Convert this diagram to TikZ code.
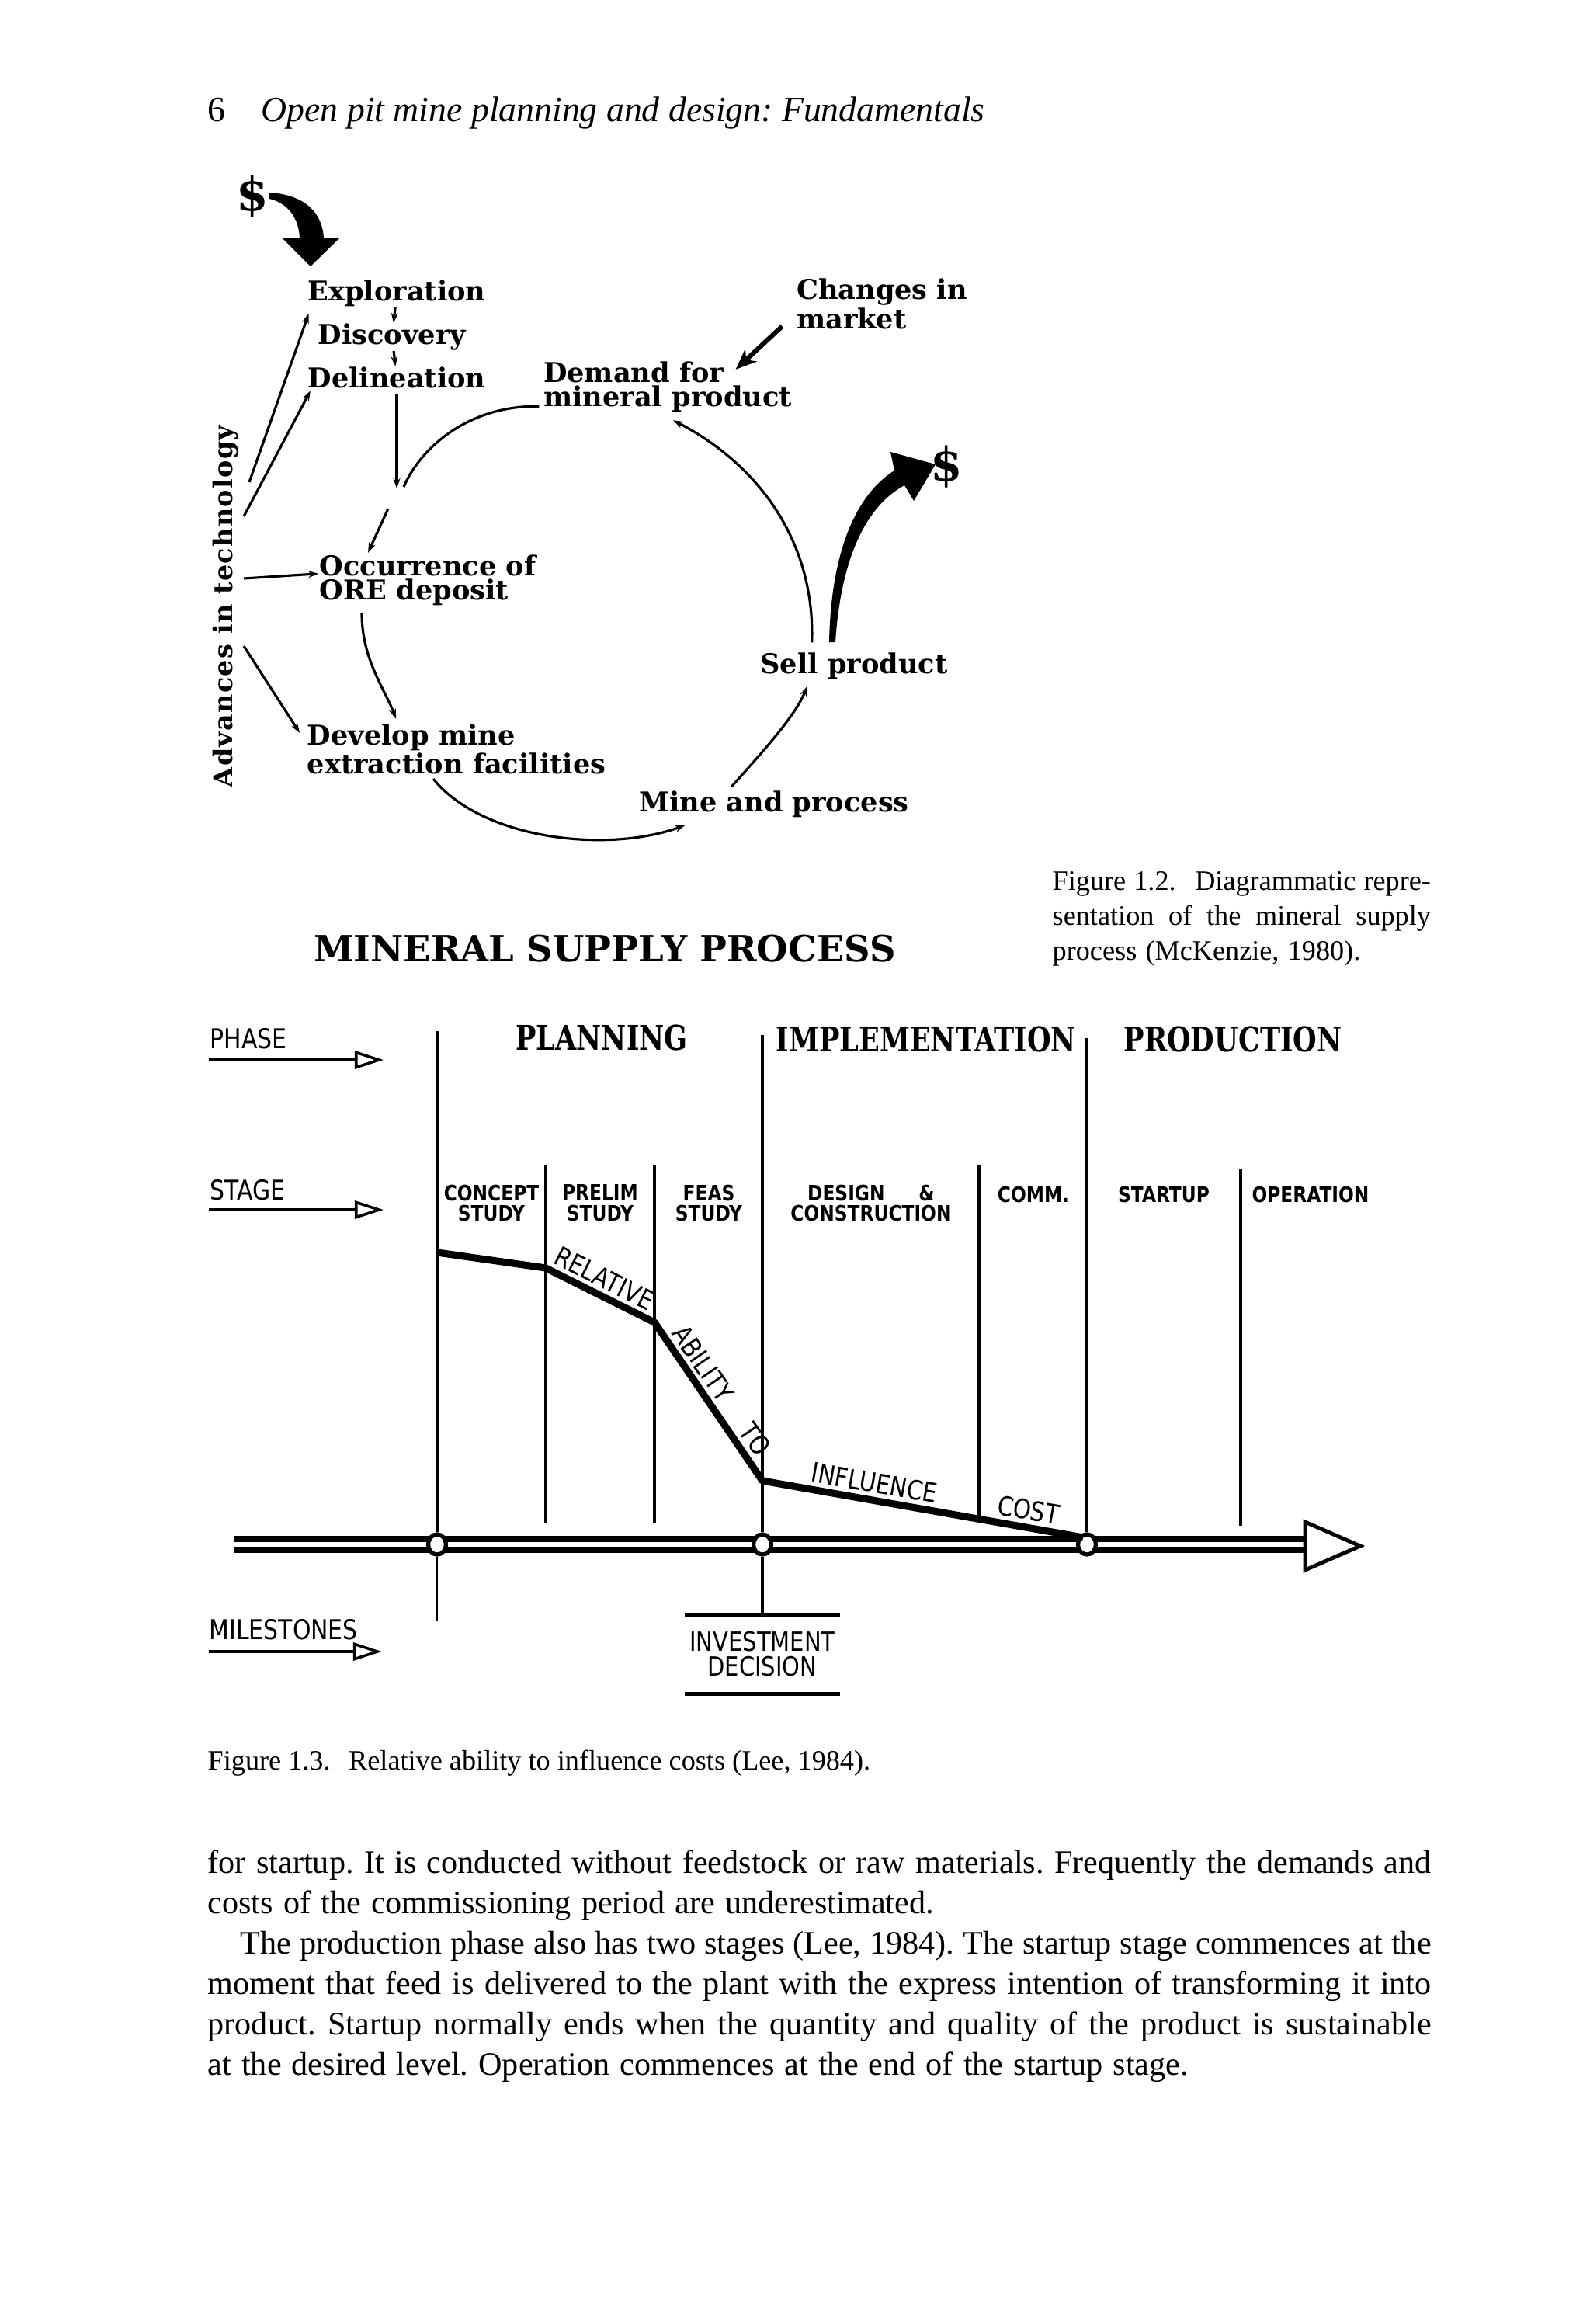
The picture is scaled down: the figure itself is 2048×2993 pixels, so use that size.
\documentclass[tikz,border=0pt]{standalone}
\usepackage{fontspec}
\setmainfont{Liberation Serif}
\newfontfamily\slab{DejaVu Serif}
\newfontfamily\slabnarrow{DejaVu Serif}[FakeStretch=0.8]
\newfontfamily\grotnarrow{DejaVu Sans}[FakeStretch=0.85]
\usetikzlibrary{arrows.meta, positioning, calc, shapes.geometric}
\frenchspacing
\newcommand\tightspaces{\spaceskip=0.31em plus 0.2em minus 0.12em\relax}

\begin{document}
\begin{tikzpicture}[
        x=0.01cm, y=-0.01cm,
        lbl/.style={inner sep=0pt, align=left,
            font=\slab\bfseries\fontsize{10}{8.8}\selectfont},
        money/.style={inner sep=0pt, font=\slab\bfseries\fontsize{17}{17}\selectfont},
        phase/.style={inner sep=0pt, font=\slabnarrow\bfseries\fontsize{12.5}{14}\selectfont},
        stagelbl/.style={inner sep=0pt, anchor=north, align=center,
            font=\grotnarrow\bfseries\fontsize{7.8}{7.6}\selectfont},
        tag/.style={inner sep=0pt, font=\grotnarrow\fontsize{10}{9.4}\selectfont},
        curvelbl/.style={inner sep=0pt, sloped, above=2.5pt,
            font=\grotnarrow\fontsize{9.8}{10}\selectfont},
        arrow/.style={-{Stealth[length=0.13cm, width=0.09cm]}, line width=0.9pt},
        fatarrow/.style={-{Stealth[length=0.27cm, width=0.22cm]}, line width=1.7pt},
        keyarrow/.style={-{Triangle[open, length=0.37cm, width=0.23cm]}, line width=1pt},
        divider/.style={line width=1.1pt},
        milestone/.style={ellipse, draw, fill=white, line width=1.5pt,
            minimum width=0.23cm, minimum height=0.26cm, inner sep=0pt},
        caption/.style={inner sep=0pt, anchor=base west,
            font=\fontsize{10.3}{12.8}\selectfont}
    ]

        \useasboundingbox (0,0) rectangle (2048,2993);
        \fill[white] (0,0) rectangle (2048,2993);

        % running head
        \node[anchor=base west, inner sep=0pt, font=\fontsize{13}{15}\selectfont] (folio) at (267,156) {6};
        \node[anchor=base west, inner sep=0pt, font=\itshape\fontsize{13}{15}\selectfont] (runhead) at (336,156) {Open pit mine planning and design: Fundamentals};

        % Figure 1.2
        \node[money] (cashin) at (325,253) {\$};
        \fill (347,248) .. controls (385,250) and (415,268) .. (417,307) -- (437,307) -- (400,343)
            -- (364,307) -- (386,307) .. controls (385,282) and (372,262) .. (347,256) -- cycle;

        \node[lbl] (expl) at (511,378) {Exploration};
        \node[lbl] (disc) at (505,434) {Discovery};
        \node[lbl] (delin) at (511,486) {Delineation};
        \node[lbl] (demand) at (860,498) {Demand for\\mineral product};
        \node[lbl] (market) at (1136,391) {Changes in\\market};
        \node[lbl] (occ) at (551,747) {Occurrence of\\ORE deposit};
        \node[lbl] (develop) at (588,965) {Develop mine\\extraction facilities};
        \node[lbl] (mine) at (997,1036) {Mine and process};
        \node[lbl] (sell) at (1100,858) {Sell product};
        \node[money] (cashout) at (1219,601) {\$};
        \node[lbl, rotate=90, font=\slab\bfseries\fontsize{9.5}{9.5}\selectfont\addfontfeature{LetterSpace=4}] (tech) at (291,781) {Advances in technology};

        \coordinate (meetA) at (511,629);
        \coordinate (meetB) at (500,655);
        \coordinate (meetC) at (520,627);

        \draw[arrow] (expl) -- (disc);
        \draw[arrow] (disc) -- (delin);
        \draw[arrow] ([yshift=-0.07cm]delin.south) -- (meetA);
        \draw[line width=0.9pt] ($(demand.south west)+(-5,-8)$) .. controls (600,522) and (540,580) .. (meetC);
        \draw[arrow] (meetB) -- ($(occ.north west)+(63,-2)$);
        \draw[arrow] ($(occ.south west)+(55,9)$) .. controls +(0,60) and +(-15,-40) .. ($(develop.north west)+(115,-6)$);
        \draw[arrow] ($(develop.south west)+(163,5)$) .. controls (620,1080) and (780,1100) .. ($(mine.south west)+(60,9)$);
        \draw[arrow] ($(mine.north)+(-55,-5)$) .. controls (990,960) and (1025,920) .. ($(sell.south west)+(61,8)$);
        \draw[arrow] ($(sell.north west)+(67,-13)$) .. controls (1050,700) and (980,600) .. ($(demand.south)+(7,10)$);
        \draw[fatarrow] ($(market.south west)+(-18,-4)$) -- ($(demand.north east)+(-73,11)$);

        \draw[arrow] ($(tech.center)+(30,-160)$) -- ($(expl.south west)+(2,8)$);
        \draw[arrow] ($(tech.center)+(23,-116)$) -- ($(delin.south west)+(4,3)$);
        \draw[arrow] ($(tech.center)+(23,-36)$) -- ($(occ.north west)+(-1,25)$);
        \draw[arrow] ($(tech.center)+(23,51)$) -- ($(develop.north west)+(-9,12)$);

        \fill (1068,827) .. controls (1070,720) and (1098,640) .. (1152,606) -- (1147,582) -- (1205,598)
            -- (1177,645) -- (1165,625) .. controls (1115,652) and (1083,720) .. (1076,827) -- cycle;

        \node[phase, font=\slab\bfseries\fontsize{13.2}{14}\selectfont] (title) at (779,1222) {MINERAL SUPPLY PROCESS};

        \node[caption, text width=4.87cm] (cap12) at (1355,1146) {\tightspaces
            \makebox[\linewidth][s]{Figure 1.2.\hspace{0.4em} Diagrammatic repre-}\par
            \makebox[\linewidth][s]{sentation of the mineral supply}\par
            process (McKenzie, 1980).};

        % Figure 1.3
        \node[tag, anchor=south west] (phasekey) at (270,1352) {PHASE};
        \node[tag, anchor=south west] (stagekey) at (270,1547) {STAGE};
        \node[tag, anchor=south west] (milekey) at (269,2113) {MILESTONES};
        \draw[keyarrow] ($(phasekey.south west)+(-1,13)$) -- ++(225,0);
        \draw[keyarrow] ($(stagekey.south west)+(-1,11)$) -- ++(225,0);
        \draw[keyarrow] ($(milekey.south west)+(0,14)$) -- ++(223,0);

        \node[phase] (planning) at (775,1336) {PLANNING};
        \node[phase] (implem) at (1193,1338) {IMPLEMENTATION};
        \node[phase] (produc) at (1588,1338) {PRODUCTION};

        \node[stagelbl] (concept) at (633,1525) {CONCEPT\\STUDY};
        \node[stagelbl] (prelim) at (773,1525) {PRELIM\\STUDY};
        \node[stagelbl] (feas) at (913,1525) {FEAS\\STUDY};
        \node[stagelbl] (design) at (1122,1525) {DESIGN\hspace{1.6em}\&\\CONSTRUCTION};
        \node[stagelbl] (comm) at (1331,1527) {COMM.};
        \node[stagelbl] (startup) at (1499,1527) {STARTUP};
        \node[stagelbl] (operation) at (1688,1527) {OPERATION};

        \coordinate (tl0) at (301,1989);
        \coordinate (tl1) at (1683,1989);
        \draw[line width=0.22cm] (tl0) -- (tl1);
        \draw[white, line width=0.06cm] (tl0) -- (tl1);
        \draw[line width=1.4pt, fill=white, line join=miter] (1681,1960) -- (1752,1991) -- (1681,2022) -- cycle;

        \node[milestone] (m1) at (563,1989) {};
        \node[milestone] (m2) at (982,1989) {};
        \node[milestone] (m3) at (1400,1989) {};

        \draw[divider] (563,1328) -- (m1);
        \draw[line width=0.7pt] (m1) -- (563,2087);
        \draw[divider] (703,1500) -- (703,1962);
        \draw[divider] (843,1500) -- (843,1962);
        \draw[divider] (982,1333) -- (m2);
        \draw[divider] (1261,1500) -- (1261,1958);
        \draw[divider] (1400,1337) -- (m3);
        \draw[divider] (1598,1505) -- (1598,1965);

        \node[tag, align=center, font=\grotnarrow\fontsize{9.7}{9}\selectfont] (invest) at (982,2130) {INVESTMENT\\DECISION};
        \draw[line width=1.3pt] ($(invest.north west)+(-6,-21)$) -- ($(invest.north east)+(6,-21)$);
        \draw[line width=1.3pt] ($(invest.south west)+(-6,22)$) -- ($(invest.south east)+(6,22)$);
        \draw[divider] (m2) -- ($(invest.north)+(0,-21)$);

        \coordinate (c0) at (563,1613);
        \coordinate (c1) at (703,1633);
        \coordinate (c2) at (843,1703);
        \coordinate (c3) at (982,1907);
        \coordinate (c4) at (1395,1980);
        \draw[line width=2.6pt, line join=round] (c0) -- (c1) -- (c2) -- (c3) -- (c4);
        \path (c1) -- node[curvelbl, pos=0.47] {RELATIVE} (c2);
        \path (c2) -- node[curvelbl, pos=0.32] {ABILITY} (c3);
        \path (c2) -- node[curvelbl, pos=0.8] {TO} (c3);
        \path (c3) -- node[curvelbl, pos=0.34] {INFLUENCE} (c4);
        \path (c3) -- node[curvelbl, pos=0.82] {COST} (c4);

        \node[caption] (cap13) at (267,2279) {Figure 1.3.\hspace{0.4em} Relative ability to influence costs (Lee, 1984).};

        % body text
        \node[caption, text width=15.75cm, font=\fontsize{12}{14.8}\selectfont] (body) at (267,2412) {\tightspaces
            \makebox[\linewidth][s]{for startup. It is conducted without feedstock or raw materials. Frequently the demands and}\par
            costs of the commissioning period are underestimated.\par
            \hspace*{0.42cm}\makebox[\dimexpr\linewidth-0.42cm][s]{The production phase also has two stages (Lee, 1984). The startup stage commences at the}\par
            \makebox[\linewidth][s]{moment that feed is delivered to the plant with the express intention of transforming it into}\par
            \makebox[\linewidth][s]{product. Startup normally ends when the quantity and quality of the product is sustainable}\par
            at the desired level. Operation commences at the end of the startup stage.};

    \end{tikzpicture}
\end{document}
